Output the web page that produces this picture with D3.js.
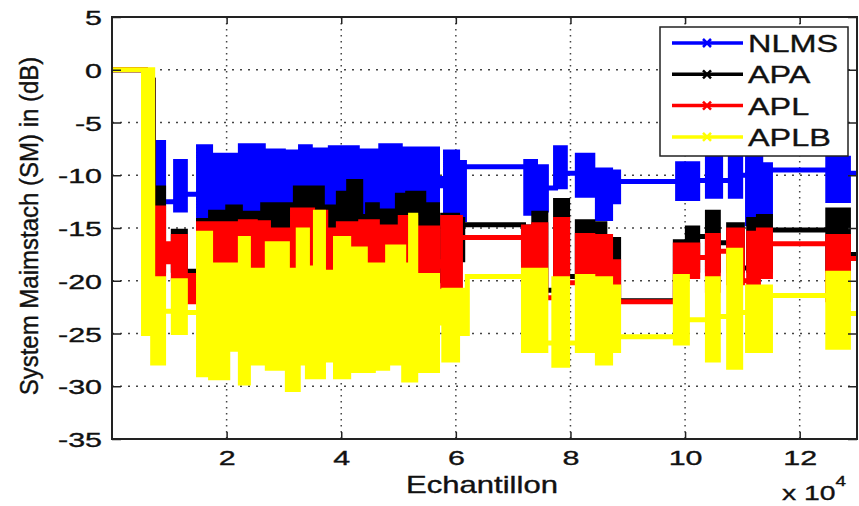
<!DOCTYPE html>
<html>
<head>
<meta charset="utf-8">
<script src="https://cdn.jsdelivr.net/npm/d3@7"></script>
<style>
  body { margin: 0; background: #fff; }
  svg { display: block; font-family: "Liberation Sans", Arial, sans-serif; }
  text { stroke: #111; stroke-width: 0.35px; }
</style>
</head>
<body>
<div id="chart"></div>
<script>
const xTicks = [20000, 40000, 60000, 80000, 100000, 120000]
const yTicks = [5, 0, -5, -10, -15, -20, -25, -30, -35]
const seriesNames = ['NLMS', 'APA', 'APL', 'APLB']
const seriesColors = ['#0000ff', '#000000', '#ff0000', '#ffff00']

// blocks: [sample, upper dB, lower dB], each holds until the next one
const nlms = [
  [0, 0, 0], [5800, -1, -12], [7200, -6.9, -12.5], [9000, -12.5, -12.5], [11100, -8.7, -13.3],
  [12800, -11.8, -11.8], [15100, -7.3, -14.5], [17200, -8.1, -14.5], [22400, -7.2, -14.5],
  [26400, -7.7, -14.5], [29900, -7.8, -14.5], [32900, -7.3, -14.5], [34600, -7.6, -14.5],
  [38100, -7.4, -14.5], [42800, -8.2, -14.5], [43400, -7.7, -14.5], [46900, -7.2, -14.5],
  [50300, -7.5, -14.5], [56800, -10.3, -11.0], [58200, -7.8, -14.2], [60300, -8.8, -14.2],
  [61500, -9.2, -9.2], [72200, -8.7, -13.6], [73900, -9.2, -13.3], [75800, -11.2, -11.2],
  [77400, -7.4, -11.1], [79100, -9.8, -9.8], [81200, -8.1, -11.9], [83900, -11.5, -11.5],
  [84700, -9.5, -14.1], [87000, -9.7, -12.5], [88400, -10.6, -10.6], [98700, -8.9, -12.2],
  [102200, -10.5, -10.5], [103900, -7.5, -12.0], [106200, -10.5, -10.5], [107900, -8.0, -12.0],
  [109700, -10.0, -10.0], [110900, -8.0, -14.6], [113200, -9.0, -14.0], [114900, -9.5, -9.5],
  [124900, -8.4, -12.4], [128500, -9.8, -9.8]
]
const apa = [
  [0, 0, 0], [5800, -1, -18], [7200, -11.2, -19], [9000, -17.4, -17.4], [10700, -15.3, -19],
  [12800, -19.1, -19.1], [15100, -14.3, -18], [17200, -13.5, -18], [20200, -13.0, -18],
  [22400, -13.6, -18], [26300, -12.8, -18], [32000, -11.2, -18], [36700, -13.0, -18],
  [39500, -11.7, -18], [41300, -10.6, -18], [43400, -13.9, -18], [44600, -12.8, -18],
  [46300, -13.4, -18], [49800, -11.9, -18], [51600, -11.7, -18], [54400, -12.8, -18],
  [56800, -18.4, -18.4], [57700, -13.8, -20], [60300, -14.2, -18], [61200, -14.7, -14.7],
  [71800, -14.9, -18], [73600, -13.6, -18], [75700, -20.9, -20.9], [77400, -12.4, -18],
  [79500, -19.6, -19.6], [81200, -14.4, -18], [83900, -17.7, -17.7], [84700, -14.6, -18],
  [86000, -16.1, -18], [88400, -21.9, -21.9], [98300, -16.3, -19], [100400, -15.0, -19],
  [102200, -15.8, -15.8], [103900, -13.5, -19], [105800, -16.4, -16.4], [107600, -14.7, -19],
  [110000, -18.8, -18.8], [111100, -14.2, -19], [112800, -13.9, -19], [114900, -15.2, -15.2],
  [124900, -13.3, -19], [128500, -17.5, -17.5]
]
const apl = [
  [0, 0, 0], [5800, -1, -20], [7100, -13.1, -19.8], [9000, -16.5, -18.2], [10700, -15.8, -19.8],
  [12800, -19.5, -22.0], [15100, -14.6, -21], [22400, -14.4, -21], [25000, -14.5, -21],
  [27300, -15.2, -21], [31500, -13.3, -21], [35000, -13.5, -21], [37300, -15.2, -21],
  [39500, -14.6, -21], [43400, -14.4, -21], [46300, -14.9, -21], [50300, -14.0, -21],
  [53000, -15.0, -21], [56800, -18.2, -18.6], [57700, -14.0, -22.8], [60800, -15.9, -15.9],
  [71800, -14.9, -20.2], [73600, -14.7, -19], [75700, -21.6, -21.6], [77400, -14.2, -19.8],
  [79500, -20.2, -20.2], [81200, -15.7, -20.2], [83900, -18.0, -18.0], [84700, -15.8, -19.6],
  [87000, -18.2, -20.5], [88400, -22.0, -22.0], [98300, -16.6, -19.6], [102200, -17.8, -17.8],
  [103900, -15.7, -20.9], [105800, -17.2, -17.2], [107600, -15.2, -20.2], [110000, -20.0, -20.0],
  [111100, -15.5, -21.2], [112800, -15.2, -19.6], [114900, -16.5, -16.5], [124900, -15.8, -21.8],
  [128500, -17.9, -17.9]
]
const aplb = [
  [0, 0, 0], [5500, 0, -25], [7100, -19.8, -27.8], [9000, -22.9, -22.9], [10700, -20.0, -24.9],
  [12800, -23.0, -23.0], [15100, -15.5, -28.9], [17200, -18.5, -29.2], [20200, -18.5, -26.5],
  [22400, -16.0, -29.7], [23800, -19.0, -27.8], [27100, -16.5, -28.3], [30600, -19.0, -30.3],
  [32500, -15.2, -27.8], [34100, -18.8, -29.1], [35500, -13.5, -29.1], [36900, -19.2, -27.5],
  [39000, -16.0, -29.1], [41300, -17.0, -28.5], [44200, -18.5, -28.5], [45600, -18.5, -28.3],
  [48100, -16.8, -27.8], [50900, -18.5, -29.4], [52100, -13.8, -29.4], [53000, -19.5, -28.5],
  [56800, -21, -24], [57900, -20.9, -27.5], [60300, -20.9, -25.0], [62000, -19.6, -19.6],
  [71800, -19.0, -26.6], [75700, -25.9, -25.9], [77100, -19.8, -28.0], [79500, -25.9, -25.9],
  [81200, -19.6, -26.6], [83900, -22.5, -22.5], [84700, -19.8, -27.8], [87000, -20.6, -26.6],
  [88400, -25.3, -25.3], [98300, -19.6, -25.9], [100400, -23.7, -23.7], [103900, -19.8, -27.5],
  [105800, -23.4, -23.4], [107600, -17.1, -28.2], [109700, -23.0, -23.0], [110900, -20.6, -26.6],
  [114900, -21.4, -21.4], [124900, -19.3, -26.3], [128500, -23.1, -23.1]
]

const W = 859
const H = 506
const margin = { top: 17, right: 2, bottom: 67, left: 112 }
const width = W - margin.left - margin.right
const height = H - margin.top - margin.bottom
const stretch = 1.35 // the picture is widened, text too
const tickStretch = 1.45

const svg = d3.select('#chart').append('svg')
  .attr('width', W)
  .attr('height', H)

const g = svg.append('g')
  .attr('transform', 'translate(' + margin.left + ',' + margin.top + ')')

const x = d3.scaleLinear().domain([0, 130000]).range([0, width])
const y = d3.scaleLinear().domain([-35, 5]).range([height, 0])

// grid
g.append('g').selectAll('line')
  .data(xTicks)
  .join('line')
  .attr('x1', d => x(d)).attr('x2', d => x(d))
  .attr('y1', 0).attr('y2', height)
  .attr('stroke', '#444')
  .attr('stroke-width', 1.5)
  .attr('stroke-dasharray', '1.5,4.5')

g.append('g').selectAll('line')
  .data(yTicks.filter(d => d < 5 && d > -35))
  .join('line')
  .attr('x1', 0).attr('x2', width)
  .attr('y1', d => y(d)).attr('y2', d => y(d))
  .attr('stroke', '#444')
  .attr('stroke-width', 1.5)
  .attr('stroke-dasharray', '2,6')

// data
g.append('clipPath').attr('id', 'clip')
  .append('rect').attr('width', width).attr('height', height)

const area = d3.area()
  .curve(d3.curveStepAfter)
  .x(d => x(d[0]))
  .y0(d => y(d[2]))
  .y1(d => y(d[1]))

const allSeries = [nlms, apa, apl, aplb]
const plot = g.append('g').attr('clip-path', 'url(#clip)')
allSeries.forEach((s, i) => {
  const last = s[s.length - 1]
  const pts = s.concat([[x.domain()[1], last[1], last[2]]])
  plot.append('path')
    .datum(pts)
    .attr('d', area)
    .attr('fill', seriesColors[i])
    .attr('stroke', seriesColors[i])
    .attr('stroke-width', 5)
    .attr('stroke-linejoin', 'miter')
})

// axes
const xAxis = g.append('g')
  .attr('transform', 'translate(0,' + height + ')')
  .call(d3.axisBottom(x).tickValues(xTicks).tickSizeInner(-7).tickSizeOuter(0)
    .tickFormat(d => String(d / 1e4)))
xAxis.selectAll('text')
  .attr('y', 26).attr('dy', 0)
  .attr('transform', 'scale(' + tickStretch + ',1)')
  .attr('font-size', 21)
  .attr('fill', '#111')

g.append('g')
  .call(d3.axisTop(x).tickValues(xTicks).tickSizeInner(-7).tickSizeOuter(0).tickFormat(''))

const yAxis = g.append('g')
  .call(d3.axisLeft(y).tickValues(yTicks).tickSizeInner(-9).tickSizeOuter(0)
    .tickFormat(d => String(d)))
yAxis.selectAll('text')
  .attr('x', -10 / tickStretch).attr('dy', '0.36em')
  .attr('transform', 'scale(' + tickStretch + ',1)')
  .attr('font-size', 21)
  .attr('fill', '#111')

g.append('g')
  .attr('transform', 'translate(' + width + ',0)')
  .call(d3.axisRight(y).tickValues(yTicks).tickSizeInner(-9).tickSizeOuter(0).tickFormat(''))

g.selectAll('.domain').remove()
g.selectAll('.tick line').attr('stroke', '#222').attr('stroke-width', 1.5)

g.append('rect')
  .attr('width', width).attr('height', height)
  .attr('fill', 'none')
  .attr('stroke', '#222')
  .attr('stroke-width', 2)

// labels
svg.append('text')
  .attr('transform', 'translate(482,493) scale(' + stretch + ',1)')
  .attr('text-anchor', 'middle')
  .attr('font-size', 23)
  .attr('fill', '#111')
  .text('Echantillon')

svg.append('text')
  .attr('transform', 'translate(38,226) scale(1.1,1) rotate(-90)')
  .attr('text-anchor', 'middle')
  .attr('font-size', 24)
  .attr('fill', '#111')
  .text('System Maimstach (SM) in (dB)')

const expo = svg.append('text')
  .attr('transform', 'translate(782,500) scale(' + stretch + ',1)')
  .attr('font-size', 21)
  .attr('fill', '#111')
expo.append('tspan').text('x 10')
expo.append('tspan').attr('font-size', 14).attr('dy', -14).text('4')

// legend
const legend = svg.append('g').attr('transform', 'translate(660,27)')
legend.append('rect')
  .attr('width', 188).attr('height', 129)
  .attr('fill', '#fff')
  .attr('stroke', '#222')
  .attr('stroke-width', 1.5)

const rows = legend.selectAll('g.row')
  .data(seriesNames)
  .join('g')
  .attr('class', 'row')
  .attr('transform', (d, i) => 'translate(0,' + (16 + i * 31.3) + ')')

rows.append('line')
  .attr('x1', 12).attr('x2', 83)
  .attr('stroke', (d, i) => seriesColors[i])
  .attr('stroke-width', 3.5)

rows.append('path')
  .attr('d', 'M43,-4L51,4M43,4L51,-4')
  .attr('stroke', (d, i) => seriesColors[i])
  .attr('stroke-width', 2.5)

rows.append('text')
  .attr('transform', 'translate(88,9) scale(' + stretch + ',1)')
  .attr('font-size', 24)
  .attr('fill', '#111')
  .text(d => d)
</script>
</body>
</html>
